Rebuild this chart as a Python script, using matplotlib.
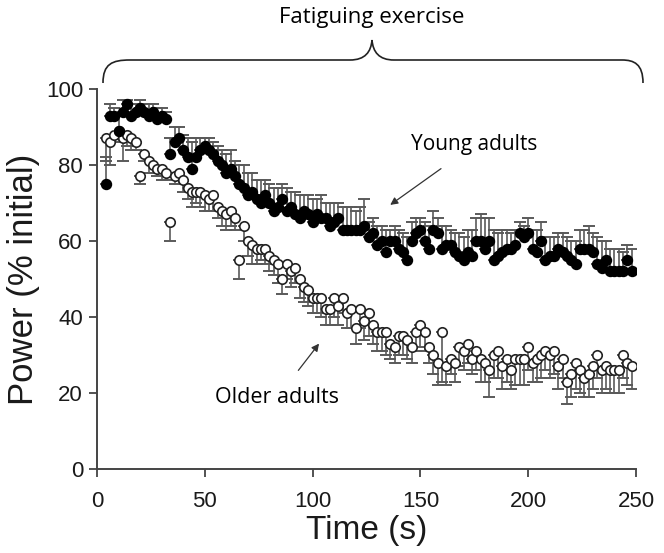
import matplotlib
matplotlib.use("Agg")
import matplotlib.pyplot as plt
import numpy as np
from matplotlib.path import Path
from matplotlib.patches import PathPatch

time_s = [4, 6, 8, 10, 12, 14, 16, 18, 20, 22, 24, 26, 28, 30, 32, 34, 36, 38, 40, 42,
          44, 46, 48, 50, 52, 54, 56, 58, 60, 62, 64, 66, 68, 70, 72, 74, 76, 78, 80, 82,
          84, 86, 88, 90, 92, 94, 96, 98, 100, 102, 104, 106, 108, 110, 112, 114, 116, 118, 120, 122,
          124, 126, 128, 130, 132, 134, 136, 138, 140, 142, 144, 146, 148, 150, 152, 154, 156, 158, 160, 162,
          164, 166, 168, 170, 172, 174, 176, 178, 180, 182, 184, 186, 188, 190, 192, 194, 196, 198, 200, 202,
          204, 206, 208, 210, 212, 214, 216, 218, 220, 222, 224, 226, 228, 230, 232, 234, 236, 238, 240, 242,
          244, 246, 248]

young_power = [75, 93, 93, 89, 94, 96, 93, 94, 95, 94, 93, 94, 92, 93, 92, 83, 86, 87, 84, 82,
               79, 82, 84, 85, 84, 83, 81, 80, 78, 79, 77, 75, 74, 72, 73, 71, 70, 72, 70, 68,
               69, 71, 68, 69, 67, 66, 68, 67, 65, 67, 66, 66, 64, 65, 66, 63, 63, 63, 63, 63,
               64, 61, 62, 59, 60, 57, 60, 60, 58, 57, 55, 60, 62, 63, 60, 58, 63, 62, 58, 59,
               59, 57, 56, 55, 57, 56, 60, 60, 58, 60, 55, 56, 57, 58, 58, 59, 62, 61, 62, 58,
               57, 60, 55, 56, 56, 58, 57, 56, 55, 54, 58, 58, 58, 57, 54, 53, 55, 52, 52, 52,
               52, 55, 52]
young_err = [7, 3, 2, 4, 3, 1, 3, 2, 2, 2, 3, 2, 3, 2, 2, 4, 4, 3, 4, 5,
             7, 5, 3, 2, 3, 3, 4, 4, 5, 5, 4, 5, 6, 6, 5, 5, 6, 4, 5, 6,
             5, 4, 6, 4, 6, 6, 4, 5, 6, 4, 6, 4, 6, 5, 4, 6, 6, 6, 5, 6,
             7, 4, 4, 5, 4, 6, 3, 4, 5, 5, 6, 5, 4, 3, 5, 6, 5, 4, 6, 5,
             4, 5, 6, 6, 6, 7, 6, 7, 8, 6, 8, 6, 6, 5, 4, 4, 3, 3, 4, 5,
             6, 5, 6, 5, 5, 4, 5, 5, 5, 6, 5, 5, 6, 5, 7, 7, 5, 6, 6, 6,
             5, 4, 6]

older_power = [87, 86, 88, 89, 87, 88, 87, 86, 77, 83, 81, 80, 79, 79, 78, 65, 77, 78, 76, 74,
               73, 73, 73, 72, 71, 72, 69, 68, 67, 68, 66, 55, 64, 60, 59, 58, 58, 58, 56, 55,
               54, 50, 54, 52, 53, 50, 48, 47, 45, 45, 45, 42, 42, 45, 43, 45, 41, 42, 37, 42,
               39, 41, 38, 36, 36, 36, 33, 32, 35, 35, 34, 32, 36, 38, 36, 32, 30, 28, 36, 27,
               29, 28, 32, 31, 33, 29, 31, 29, 28, 26, 30, 31, 27, 29, 26, 29, 29, 29, 32, 28,
               29, 30, 31, 30, 31, 27, 29, 23, 25, 28, 26, 24, 25, 27, 30, 26, 27, 26, 26, 26,
               30, 28, 27]
older_err = [6, 6, 2, 3, 6, 3, 3, 2, 2, 2, 3, 2, 2, 3, 2, 5, 2, 3, 3, 3,
             4, 3, 4, 4, 3, 4, 3, 4, 4, 4, 3, 5, 4, 4, 5, 4, 3, 4, 4, 4,
             5, 4, 4, 4, 4, 5, 4, 4, 4, 4, 5, 4, 4, 5, 5, 4, 4, 5, 4, 5,
             5, 6, 5, 5, 5, 6, 4, 4, 5, 5, 5, 4, 5, 6, 5, 4, 5, 6, 13, 5,
             4, 5, 5, 5, 5, 4, 5, 6, 5, 7, 6, 7, 6, 6, 5, 7, 7, 7, 6, 5,
             6, 6, 5, 6, 6, 6, 5, 6, 6, 7, 6, 5, 6, 6, 6, 6, 6, 6, 6, 6,
             6, 6, 6]

x_ticks = [0, 50, 100, 150, 200, 250]
y_ticks = [0, 20, 40, 60, 80, 100]

fig = plt.figure(figsize=(6.64, 5.53), dpi=100)
ax = fig.add_axes([97/664, 1-469/553, (636-97)/664, (469-89)/553])

zeros = np.zeros(len(time_s))
ecol = "#5a5a5a"
ax.errorbar(time_s, older_power, yerr=[older_err, zeros], fmt="none",
            ecolor=ecol, elinewidth=1.2, capsize=4, capthick=1.4, zorder=2)
ax.plot(time_s, older_power, "o", ms=6.8, mfc="white", mec="#222222", mew=1.2, zorder=3)
ax.errorbar(time_s, young_power, yerr=[zeros, young_err], fmt="none",
            ecolor=ecol, elinewidth=1.2, capsize=4, capthick=1.4, zorder=4)
ax.plot(time_s, young_power, "o", ms=7.2, mfc="black", mec="black", zorder=5)

ax.set_xlim(0, 250)
ax.set_ylim(0, 100)
ax.set_xticks(x_ticks)
ax.set_yticks(y_ticks)
for s in ["top", "right"]:
    ax.spines[s].set_visible(False)
for s in ["left", "bottom"]:
    ax.spines[s].set_color("#444444")
    ax.spines[s].set_linewidth(1.4)
ax.tick_params(direction="out", length=6, width=1.3, color="#444444",
               labelsize=16, labelcolor="#1a1a1a")
ax.tick_params(axis="x", pad=10)
ax.tick_params(axis="y", pad=4)
for lab in ax.get_xticklabels() + ax.get_yticklabels():
    lab.set_fontfamily("Liberation Sans")
ax.set_xlabel("Time (s)", fontsize=24, family="Liberation Sans", color="#1a1a1a")
ax.set_ylabel("Power (% initial)", fontsize=25, family="Liberation Sans", color="#1a1a1a")
ax.xaxis.set_label_coords(0.5, -0.122)
ax.yaxis.set_label_coords(-0.105, 0.5)

tf = "Open Sans"
ax.annotate("Young adults", xy=(136, 69.5), xytext=(175, 85.3), fontsize=15, family=tf,
            ha="center", va="center",
            arrowprops=dict(arrowstyle="-|>", color="#333333", lw=0.9, shrinkA=13, shrinkB=0,
                            mutation_scale=11))
ax.annotate("Older adults", xy=(103, 33), xytext=(83.5, 18.7), fontsize=15.5, family=tf,
            ha="center", va="center",
            arrowprops=dict(arrowstyle="-|>", color="#333333", lw=0.9, shrinkA=13, shrinkB=0,
                            mutation_scale=11))

# brace overlay in pixel coordinates
ov = fig.add_axes([0, 0, 1, 1], facecolor="none")
ov.set_xlim(0, 664)
ov.set_ylim(553, 0)
ov.axis("off")
verts = [(103, 83), (103, 64), (112, 60), (130, 60),
         (350, 60),
         (365, 60), (371, 52), (372, 40),
         (373, 52), (379, 60), (394, 60),
         (622, 60),
         (634, 60), (643, 64), (643, 83)]
codes = [Path.MOVETO, Path.CURVE4, Path.CURVE4, Path.CURVE4,
         Path.LINETO,
         Path.CURVE4, Path.CURVE4, Path.CURVE4,
         Path.CURVE4, Path.CURVE4, Path.CURVE4,
         Path.LINETO,
         Path.CURVE4, Path.CURVE4, Path.CURVE4]
ov.add_patch(PathPatch(Path(verts, codes), fill=False, lw=1.2, edgecolor="#222222"))
ov.text(372, 18, "Fatiguing exercise", fontsize=16, family=tf, ha="center", va="center")

fig.savefig("out.png", dpi=100, facecolor="white")
